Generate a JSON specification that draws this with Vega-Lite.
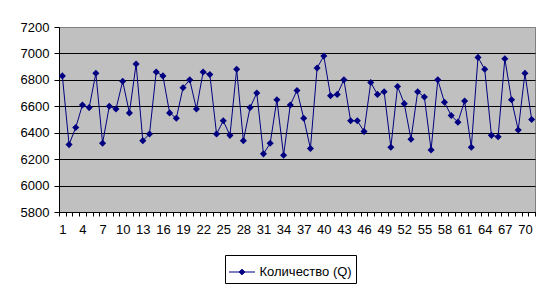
{
  "$schema": "https://vega.github.io/schema/vega-lite/v6.json",
  "width": 476,
  "height": 185,
  "autosize": {"type": "none"},
  "padding": {"left": 59, "top": 27, "right": 16, "bottom": 77},
  "background": "white",
  "config": {
    "view": {"fill": "#C0C0C0", "stroke": "#808080", "strokeWidth": 1},
    "font": "Liberation Sans"
  },
  "data": {
    "values": [
      {"n": 1, "q": 6830}, {"n": 2, "q": 6310}, {"n": 3, "q": 6440}, {"n": 4, "q": 6610},
      {"n": 5, "q": 6590}, {"n": 6, "q": 6850}, {"n": 7, "q": 6320}, {"n": 8, "q": 6600},
      {"n": 9, "q": 6580}, {"n": 10, "q": 6790}, {"n": 11, "q": 6550}, {"n": 12, "q": 6920},
      {"n": 13, "q": 6340}, {"n": 14, "q": 6390}, {"n": 15, "q": 6860}, {"n": 16, "q": 6830},
      {"n": 17, "q": 6550}, {"n": 18, "q": 6510}, {"n": 19, "q": 6740}, {"n": 20, "q": 6800},
      {"n": 21, "q": 6580}, {"n": 22, "q": 6860}, {"n": 23, "q": 6840}, {"n": 24, "q": 6390},
      {"n": 25, "q": 6490}, {"n": 26, "q": 6380}, {"n": 27, "q": 6880}, {"n": 28, "q": 6340},
      {"n": 29, "q": 6590}, {"n": 30, "q": 6700}, {"n": 31, "q": 6240}, {"n": 32, "q": 6320},
      {"n": 33, "q": 6650}, {"n": 34, "q": 6230}, {"n": 35, "q": 6610}, {"n": 36, "q": 6720},
      {"n": 37, "q": 6510}, {"n": 38, "q": 6280}, {"n": 39, "q": 6890}, {"n": 40, "q": 6980},
      {"n": 41, "q": 6680}, {"n": 42, "q": 6690}, {"n": 43, "q": 6800}, {"n": 44, "q": 6490},
      {"n": 45, "q": 6490}, {"n": 46, "q": 6410}, {"n": 47, "q": 6780}, {"n": 48, "q": 6690},
      {"n": 49, "q": 6710}, {"n": 50, "q": 6290}, {"n": 51, "q": 6750}, {"n": 52, "q": 6620},
      {"n": 53, "q": 6350}, {"n": 54, "q": 6710}, {"n": 55, "q": 6670}, {"n": 56, "q": 6270},
      {"n": 57, "q": 6800}, {"n": 58, "q": 6630}, {"n": 59, "q": 6530}, {"n": 60, "q": 6480},
      {"n": 61, "q": 6640}, {"n": 62, "q": 6290}, {"n": 63, "q": 6970}, {"n": 64, "q": 6880},
      {"n": 65, "q": 6380}, {"n": 66, "q": 6370}, {"n": 67, "q": 6960}, {"n": 68, "q": 6650},
      {"n": 69, "q": 6420}, {"n": 70, "q": 6850}, {"n": 71, "q": 6500}
    ]
  },
  "mark": {
    "type": "line",
    "strokeWidth": 1,
    "point": {"shape": "diamond", "size": 50, "filled": true, "color": "#000080"}
  },
  "encoding": {
    "x": {
      "field": "n",
      "type": "ordinal",
      "sort": "ascending",
      "bandPosition": 0.5,
      "scale": {"type": "band", "paddingInner": 0, "paddingOuter": 0},
      "axis": {
        "title": null,
        "labelAngle": 0,
        "labelOverlap": false,
        "labelExpr": "(datum.value - 1) % 3 == 0 ? datum.label : ''",
        "labelFont": "Liberation Sans",
        "labelFontSize": 13,
        "labelColor": "black",
        "labelPadding": 7,
        "tickBand": "extent",
        "tickColor": "black",
        "tickSize": 4,
        "domainColor": "black",
        "grid": false
      }
    },
    "y": {
      "field": "q",
      "type": "quantitative",
      "scale": {"domain": [5800, 7200], "zero": false, "nice": false},
      "axis": {
        "title": null,
        "format": "d",
        "values": [5800, 6000, 6200, 6400, 6600, 6800, 7000, 7200],
        "labelFont": "Liberation Sans",
        "labelFontSize": 13,
        "labelColor": "black",
        "labelPadding": 5,
        "tickColor": "black",
        "tickSize": 5,
        "domainColor": "black",
        "grid": true,
        "gridColor": {"condition": {"test": "datum.value == 7200", "value": "#808080"}, "value": "black"},
        "gridOpacity": 1
      }
    },
    "color": {
      "datum": "Количество (Q)",
      "type": "nominal",
      "scale": {"range": ["#000080"]},
      "legend": {
        "title": null,
        "orient": "none",
        "legendX": 166,
        "legendY": 228,
        "strokeColor": "black",
        "padding": 3.5,
        "labelFont": "Liberation Sans",
        "labelFontSize": 13,
        "labelColor": "black",
        "symbolType": "M-1,0L1,0M0,-0.22L0.22,0L0,0.22L-0.22,0Z",
        "symbolSize": 676,
        "symbolStrokeWidth": 1,
        "symbolFillColor": "#000080",
        "symbolStrokeColor": "#000080"
      }
    }
  }
}
